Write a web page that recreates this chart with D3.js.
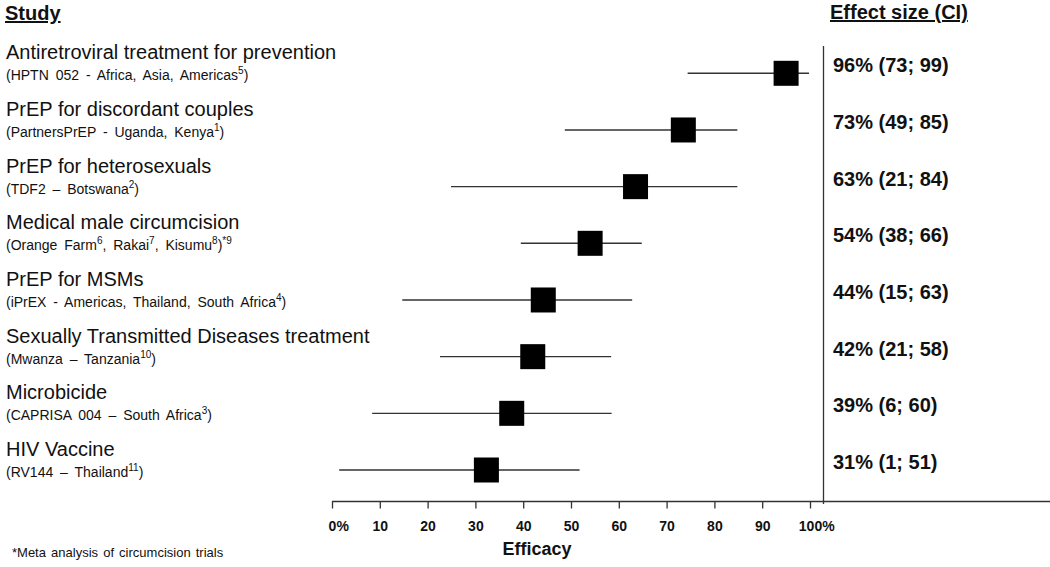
<!DOCTYPE html>
<html>
<head>
<meta charset="utf-8">
<script src="https://cdn.jsdelivr.net/npm/d3@7"></script>
<style>
  html, body { margin: 0; padding: 0; background: #fff; }
  svg { display: block; font-family: "Liberation Sans", Arial, sans-serif; }
</style>
</head>
<body>
<svg id="chart" width="1050" height="567"></svg>
<script>
// ---- data ----
const studies = [
  "Antiretroviral treatment for prevention",
  "PrEP for discordant couples",
  "PrEP for heterosexuals",
  "Medical male circumcision",
  "PrEP for MSMs",
  "Sexually Transmitted Diseases treatment",
  "Microbicide",
  "HIV Vaccine"
];
const sources = [
  "(HPTN 052 - Africa, Asia, Americas^{5})",
  "(PartnersPrEP - Uganda, Kenya^{1})",
  "(TDF2 \u2013 Botswana^{2})",
  "(Orange Farm^{6}, Rakai^{7}, Kisumu^{8})^{*9}",
  "(iPrEX - Americas, Thailand, South Africa^{4})",
  "(Mwanza \u2013 Tanzania^{10})",
  "(CAPRISA 004 \u2013 South Africa^{3})",
  "(RV144 \u2013 Thailand^{11})"
];
// positions of marks as drawn in the picture (efficacy %)
const estimate = [95, 73.5, 63.5, 54, 44.2, 42, 37.6, 32.3];
const lower    = [74.4, 48.7, 24.9, 39.5, 14.7, 22.6, 8.4, 1.5];
const upper    = [99.8, 84.8, 84.8, 64.8, 62.8, 58.4, 58.5, 51.8];
// reported effect sizes (text column)
const reported    = [96, 73, 63, 54, 44, 42, 39, 31];
const reportedLo  = [73, 49, 21, 38, 15, 21, 6, 1];
const reportedHi  = [99, 85, 84, 66, 63, 58, 60, 51];
const tickValues = [0, 10, 20, 30, 40, 50, 60, 70, 80, 90, 100];
const tickLabels = ["0%", "10", "20", "30", "40", "50", "60", "70", "80", "90", "100%"];

// ---- drawing ----
const svg = d3.select("#chart");
const W = 1050;
const ink = "#111";
const lineCol = "#333";

const x = d3.scaleLinear().domain([0, 100]).range([332, 810]);
const y = d3.scalePoint().domain(d3.range(studies.length)).range([73.3, 470]);
const axisY = 501.5;

// headers
svg.append("text").attr("x", 5).attr("y", 20)
  .attr("font-size", 20).attr("font-weight", "bold").attr("fill", ink)
  .style("text-decoration", "underline").text("Study");
svg.append("text").attr("x", 830).attr("y", 19)
  .attr("font-size", 20).attr("font-weight", "bold").attr("fill", ink)
  .style("text-decoration", "underline").text("Effect size (CI)");

// study labels
const rows = svg.append("g").selectAll("g").data(studies).join("g");
rows.append("text")
  .attr("x", 6).attr("y", (d, i) => y(i) - 14)
  .attr("font-size", 20).attr("fill", ink)
  .text(d => d);

rows.each(function(d, i) {
  const t = d3.select(this).append("text")
    .attr("x", 6).attr("y", y(i) + 7)
    .attr("font-size", 14).attr("fill", ink)
    .style("word-spacing", "3px");
  const parts = sources[i].split(/\^\{([^}]*)\}/);
  let raised = false;
  parts.forEach((p, k) => {
    if (!p) return;
    if (k % 2 === 1) {
      t.append("tspan").attr("font-size", 10).attr("dy", -6).text(p);
      raised = true;
    } else {
      const s = t.append("tspan").text(p);
      if (raised) { s.attr("dy", 6); raised = false; }
    }
  });
});

// CI lines
svg.append("g").selectAll("line").data(studies).join("line")
  .attr("x1", (d, i) => x(lower[i])).attr("x2", (d, i) => x(upper[i]))
  .attr("y1", (d, i) => y(i)).attr("y2", (d, i) => y(i))
  .attr("stroke", lineCol).attr("stroke-width", 1.4);

// squares
const sq = 25;
svg.append("g").selectAll("rect").data(studies).join("rect")
  .attr("x", (d, i) => x(estimate[i]) - sq / 2)
  .attr("y", (d, i) => y(i) - sq / 2)
  .attr("width", sq).attr("height", sq)
  .attr("fill", "#000");

// effect size labels
svg.append("g").selectAll("text").data(studies).join("text")
  .attr("x", 833).attr("y", (d, i) => y(i) - 1)
  .attr("font-size", 20).attr("font-weight", "bold").attr("fill", ink)
  .text((d, i) => `${reported[i]}% (${reportedLo[i]}; ${reportedHi[i]})`);

// divider
svg.append("line")
  .attr("x1", 823.5).attr("x2", 823.5).attr("y1", 46).attr("y2", 504)
  .attr("stroke", lineCol).attr("stroke-width", 1.3);

// axis
const axis = d3.axisBottom(x)
  .tickValues(tickValues)
  .tickSize(7)
  .tickFormat((d, i) => tickLabels[i].replace("%", ""));
const gAxis = svg.append("g").attr("transform", `translate(0,${axisY})`).call(axis);
gAxis.select(".domain").remove();
gAxis.selectAll(".tick line").attr("stroke", lineCol).attr("stroke-width", 1.3);
gAxis.selectAll(".tick text")
  .attr("y", 29).attr("dy", 0)
  .attr("font-size", 14).attr("font-weight", "bold").attr("fill", ink)
  .attr("font-family", "Liberation Sans, Arial, sans-serif")
  .each(function(d, i) {
    if (tickLabels[i].includes("%")) {
      const w = this.getComputedTextLength();
      d3.select(this).attr("text-anchor", "start").attr("x", -w / 2);
      d3.select(this).append("tspan").text("%");
    }
  });
svg.append("line")
  .attr("x1", x(0)).attr("x2", W).attr("y1", axisY).attr("y2", axisY)
  .attr("stroke", lineCol).attr("stroke-width", 1.4);

svg.append("text").attr("x", 537).attr("y", 555)
  .attr("text-anchor", "middle")
  .attr("font-size", 18).attr("font-weight", "bold").attr("fill", ink)
  .text("Efficacy");

// footnote
svg.append("text").attr("x", 12).attr("y", 557)
  .attr("font-size", 13).attr("fill", ink)
  .style("word-spacing", "1.5px")
  .text("*Meta analysis of circumcision trials");
</script>
</body>
</html>
